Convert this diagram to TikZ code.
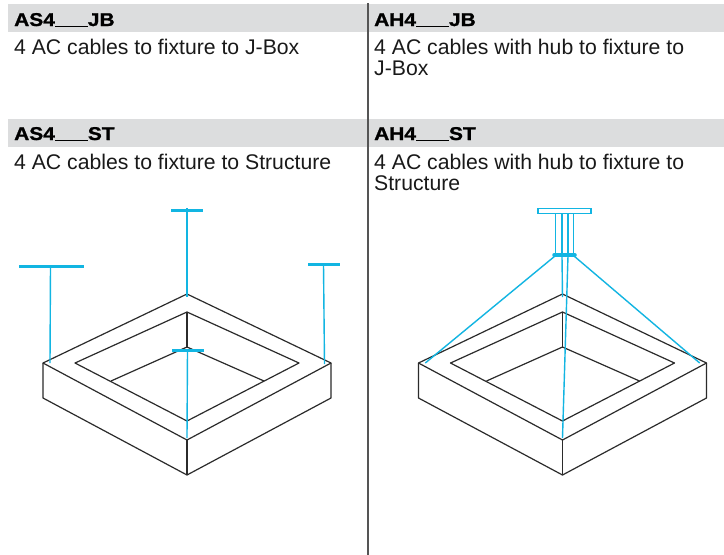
\documentclass[tikz,border=0pt]{standalone}
\usepackage{fontspec}
\setmainfont{Liberation Sans}
\newfontfamily\headfont[FakeStretch=1.13,FakeBold=1.2]{Liberation Sans Bold}
\definecolor{hdrgrey}{HTML}{DCDDDE}
\definecolor{cablecyan}{HTML}{12B5E2}
\definecolor{inkdark}{HTML}{2B2B2B}
\newcommand{\blank}{\rule[-1pt]{33pt}{0.9pt}}
\tikzset{
  hdrband/.style={fill=hdrgrey,draw=none},
  hdrtext/.style={anchor=base west,inner sep=0pt,font=\headfont\fontsize{18.5}{18.5}\selectfont},
  bodytext/.style={anchor=base west,inner sep=0pt,align=left,text=black!90,font=\fontsize{21.2}{21.2}\selectfont},
  boxline/.style={draw=inkdark,line width=1.2pt,line join=round},
  cable/.style={draw=cablecyan,line width=1.4pt},
  canopybar/.style={draw=cablecyan,line width=3pt},
  divider/.style={draw=inkdark!80,line width=1.2pt}
}
\newcommand{\planter}[1]{%
  \begin{scope}[xshift=#1pt]
    \draw[boxline] (187,294)--(331,363)--(187,440)--(43,363)--cycle;
    \draw[boxline] (43,363)--(43,398)--(187,475)--(331,398)--(331,363);
    \draw[boxline] (187,440)--(187,475);
    \draw[boxline] (187,312)--(299,363)--(187,421)--(75,363)--cycle;
    \draw[boxline] (187,312)--(187,347);
    \draw[boxline] (111,381)--(187,347)--(264,381);
  \end{scope}}
\begin{document}
\begin{tikzpicture}[x=1pt,y=-1pt]
\useasboundingbox (0,0) rectangle (724,555);
\fill[white] (0,0) rectangle (724,555);
\fill[hdrband] (8,4) rectangle (724,32);
\fill[hdrband] (8,119) rectangle (724,147);
\draw[divider] (368,3)--(368,555);
\node[hdrtext] (h1) at (14,26) {AS4\blank JB};
\node[hdrtext] (h2) at (374,26) {AH4\blank JB};
\node[hdrtext] (h3) at (14,140) {AS4\blank ST};
\node[hdrtext] (h4) at (374,140) {AH4\blank ST};
\node[bodytext] (b1) at (14,54) {4 AC cables to fixture to J-Box};
\node[bodytext] (b2) at (374,54) {4 AC cables with hub to fixture to};
\node[bodytext] (b2b) at (374,75) {J-Box};
\node[bodytext] (b3) at (14,169) {4 AC cables to fixture to Structure};
\node[bodytext] (b4) at (374,169) {4 AC cables with hub to fixture to};
\node[bodytext] (b4b) at (374,190) {Structure};
\planter{0}
\planter{375.5}
% left: individual canopies
\draw[canopybar] (171,210.5)--(203,210.5);
\draw[cable] (187,208)--(187,297);
\draw[canopybar] (19,266.5)--(84,266.5);
\draw[cable] (50.5,266)--(50,363);
\draw[canopybar] (308,264.5)--(340,264.5);
\draw[cable] (323.5,264)--(324.5,364);
\draw[canopybar] (172,350.5)--(204,350.5);
\draw[cable] (187.5,350)--(187,438);
% right: hub
\draw[cable] (538,208.5) rectangle (591,213.5);
\draw[cable] (555.7,213.5)--(555.7,255);
\draw[cable] (562,213.5)--(562,255);
\draw[cable] (568,213.5)--(568,255);
\draw[cable] (573.5,213.5)--(573.5,255);
\draw[canopybar,line width=3.5pt,line cap=round] (554,255)--(575,255);
\draw[cable] (555,256)--(425.3,363);
\draw[cable] (574,256)--(699.7,363);
\draw[cable] (562,256)--(562.5,297);
\draw[cable] (568,256)--(562.5,438);
\end{tikzpicture}
\end{document}
